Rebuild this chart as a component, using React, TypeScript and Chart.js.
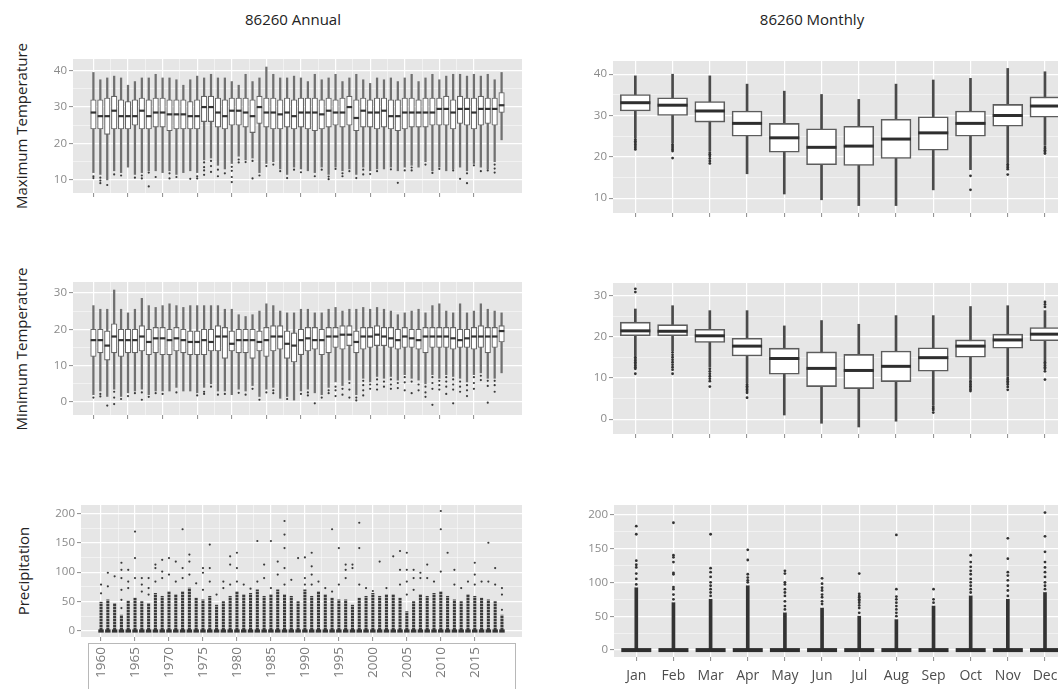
import React, { useEffect, useRef } from "react";
import { Chart, registerables } from "chart.js";

Chart.register(...registerables);

const FONT = '"Open Sans", "Liberation Sans", sans-serif';
const PANEL_BG = "#E6E6E6";

// ---------- categories & ticks ----------
const YEARS = [
  1960, 1961, 1962, 1963, 1964, 1965, 1966, 1967, 1968, 1969,
  1970, 1971, 1972, 1973, 1974, 1975, 1976, 1977, 1978, 1979,
  1980, 1981, 1982, 1983, 1984, 1985, 1986, 1987, 1988, 1989,
  1990, 1991, 1992, 1993, 1994, 1995, 1996, 1997, 1998, 1999,
  2000, 2001, 2002, 2003, 2004, 2005, 2006, 2007, 2008, 2009,
  2010, 2011, 2012, 2013, 2014, 2015, 2016, 2017, 2018, 2019,
];
const YEAR_MAJOR_TICKS = [1960, 1965, 1970, 1975, 1980, 1985, 1990, 1995, 2000, 2005, 2010, 2015];
const YEAR_MINOR_TICKS = [1962.5, 1967.5, 1972.5, 1977.5, 1982.5, 1987.5, 1992.5, 1997.5, 2002.5, 2007.5, 2012.5];
const MONTHS = ["Jan", "Feb", "Mar", "Apr", "May", "Jun", "Jul", "Aug", "Sep", "Oct", "Nov", "Dec"];
const MONTH_POS = [1, 2, 3, 4, 5, 6, 7, 8, 9, 10, 11, 12];

const TMAX_MAJOR = [10, 20, 30, 40];
const TMAX_MINOR = [15, 25, 35];
const TMIN_MAJOR = [0, 10, 20, 30];
const TMIN_MINOR = [5, 15, 25];
const PRE_MAJOR = [0, 50, 100, 150, 200];
const PRE_MINOR = [25, 75, 125, 175];

// ---------- annual maximum temperature ----------
const AMAX_HI = [
  39.5, 37.5, 38, 38.5, 38, 36, 37, 38, 38, 39,
  38, 38, 37.5, 36, 37.5, 38.5, 38, 39, 38, 38,
  37, 36, 39, 37, 38, 41, 39, 38, 38, 38.5,
  38, 37, 39, 37.5, 38, 39, 37, 38, 39, 37.5,
  36.5, 38, 37.5, 38, 37, 38, 39, 37, 38, 39,
  37.5, 38.5, 39, 39, 38.5, 39, 38.5, 39, 37.5, 39.5,
];
const AMAX_Q3 = [
  32, 32, 32.5, 33, 32, 31.5, 32, 32.5, 32, 32.5,
  32.5, 32, 32, 32, 31.5, 32, 33, 33, 32.5, 32,
  32.5, 32.5, 32.5, 32, 33, 32.5, 32.5, 32, 32.5, 32,
  32.5, 32.5, 32.5, 32, 32.5, 32, 32.5, 33, 32, 32.5,
  32, 32.5, 32.5, 32, 32, 32.5, 32.5, 32, 32.5, 32.5,
  32.5, 33, 32, 33, 32.5, 32.5, 33, 32.5, 32.5, 34,
];
const AMAX_MED = [
  28.5, 27.5, 27.5, 29, 27.5, 27.5, 27.5, 29, 27.5, 28.5,
  28.5, 28, 28, 28, 27.5, 27.5, 30, 30, 28.5, 27.5,
  29, 29, 28.5, 27.5, 30, 28.5, 28.5, 28, 28.5, 27.5,
  28.5, 28.5, 28.5, 28, 29, 28.5, 28.5, 30, 27, 29,
  28.5, 28.5, 29, 27.5, 27.5, 28.5, 28.5, 28.5, 28.5, 28.5,
  29.5, 29.5, 28.5, 29.5, 29.5, 28.5, 29.5, 29.5, 29.5, 30.5,
];
const AMAX_Q1 = [
  24, 24, 22.5, 24, 24, 24, 25, 24, 24, 24.5,
  24.5, 23.5, 24, 24, 24, 24, 26, 26, 24.5, 24,
  25, 25, 24.5, 23, 25.5, 24.5, 24, 24, 24.5, 24,
  24.5, 24, 23.5, 24, 24.5, 25, 24.5, 25, 23.5, 24.5,
  24.5, 24, 24.5, 24, 23.5, 24, 24.5, 24.5, 24.5, 25,
  25, 25, 24, 25.5, 25, 24, 25, 25.5, 25, 28.5,
];
const AMAX_LO = [
  12, 11.5, 10, 12.5, 12, 13.5, 11.5, 12, 12.5, 12.5,
  12, 12.5, 11.5, 12, 12.5, 12, 15.5, 16, 14, 13,
  14.5, 16.5, 15.5, 16, 12, 14.5, 15, 13, 11.5, 13.5,
  13, 12.5, 12, 13.5, 11.5, 13.5, 12.5, 13, 11.5, 13.5,
  12.5, 13, 13, 13.5, 12.5, 13.5, 14, 13.5, 15, 12.5,
  13.5, 12.5, 13, 13.5, 12.5, 14.5, 13.5, 13, 15, 21,
];
const AMAX_OUT: [number, number][] = [
  [1960, 11], [1960, 10.5], [1961, 10.6], [1961, 9.8], [1961, 9.1], [1962, 8.6],
  [1963, 11.5], [1964, 11.2], [1966, 10.6], [1967, 11.2], [1967, 10.4], [1968, 12], [1968, 8.2],
  [1969, 10.8], [1971, 11.8], [1971, 10.4], [1972, 10.8], [1974, 10.3], [1975, 11], [1975, 10.4],
  [1976, 14.8], [1976, 13.5], [1976, 12.6], [1976, 11.4], [1977, 15.2], [1977, 13.8], [1977, 12.2],
  [1978, 12.8], [1978, 11], [1979, 11.8], [1980, 13.6], [1980, 12.5], [1980, 10.8], [1980, 9.4],
  [1981, 15.6], [1981, 14.8], [1982, 14.9], [1983, 15.2], [1983, 10.4], [1984, 11.2], [1985, 13.8],
  [1986, 14.2], [1987, 12.4], [1988, 10.5], [1989, 12.8], [1990, 12.1], [1992, 11], [1993, 12.8],
  [1994, 10.9], [1994, 10.2], [1995, 13], [1996, 11.8], [1996, 11], [1997, 12.4], [1998, 10.5],
  [1999, 12.8], [1999, 11.5], [2000, 11.6], [2001, 12.4], [2003, 12.9], [2004, 9.2], [2005, 12.6],
  [2006, 13.4], [2006, 12.6], [2008, 14.2], [2009, 11.9], [2010, 13], [2012, 12.6], [2013, 10.3],
  [2014, 11.8], [2014, 9.1], [2015, 14], [2016, 12.4], [2017, 12.6], [2018, 14.2], [2018, 13.1], [2018, 12],
];

// ---------- annual minimum temperature ----------
const AMIN_HI = [
  26.5, 25.5, 25.5, 30.8, 25.5, 24.5, 25.5, 28.5, 26.5, 26,
  26.5, 27, 26.5, 26, 26.5, 26.5, 26.5, 26.5, 26.5, 25.5,
  25.5, 24, 23.5, 24, 25, 27, 26.5, 25, 24.5, 24.5,
  25.5, 25.5, 24.5, 24.5, 25.5, 26, 25, 25.5, 25.5, 26,
  25.5, 26, 25.5, 25, 24, 24.5, 25, 25.5, 24.5, 26.5,
  27, 25, 24.5, 27, 24.5, 25, 27, 25.5, 25, 24.5,
];
const AMIN_Q3 = [
  20, 20, 19.5, 21.5, 20, 20, 20, 21, 20, 20.5,
  20.5, 20, 20.5, 20, 19.5, 19.5, 20, 20, 21, 20.5,
  19.5, 20, 20, 20, 19.5, 20.5, 21, 21, 19.5, 19,
  20, 20.5, 20.5, 20, 20.5, 20.5, 21, 21, 19.5, 20.5,
  20.5, 21, 20.5, 20.5, 20, 20.5, 20, 20, 20.5, 20.5,
  20.5, 20.5, 20.5, 20, 20, 20.5, 21, 20.5, 20.5, 21,
];
const AMIN_MED = [
  17, 17, 15.5, 18, 17, 17, 17, 18, 16.5, 17.5,
  17.5, 17, 17.5, 17, 16.5, 16.5, 17, 16.5, 18, 18,
  16, 17, 17, 17, 16.5, 17, 18, 18, 16, 15.5,
  17, 17.5, 17, 17, 18, 18, 18.5, 18.5, 16.5, 18,
  18, 18.5, 18, 17.5, 17, 18, 17.5, 17, 18, 18,
  18, 18, 17.5, 17, 17.5, 18, 18, 18, 18, 19.5,
];
const AMIN_Q1 = [
  12.5, 13.5, 11.5, 13.5, 12.5, 13.5, 13.5, 14, 13, 13.5,
  13, 13, 14, 13.5, 13, 13, 13, 14, 14, 12,
  14, 13.5, 13.5, 12, 14, 12.5, 14, 14.5, 12, 11,
  13, 14, 14.5, 13, 13.5, 15, 14.5, 15.5, 13.5, 14.5,
  15, 15.5, 15.5, 15, 14.5, 15, 15, 14.5, 13.5, 15,
  15, 15, 14.5, 15, 15, 14.5, 15, 13.5, 15, 16.5,
];
const AMIN_LO = [
  2, 3, 1.5, 3.5, 1.5, 2.5, 3, 3.5, 2, 3,
  3, 3, 4, 3, 3, 2.5, 4, 5, 3, 3,
  2, 3.5, 3, 4.5, 1.5, 3.5, 4, 1, 1.5, 0.5,
  3, 3.5, 2.5, 2, 4, 5.5, 4.5, 6, 2, 6.5,
  5.5, 7, 6.5, 7, 6, 7.5, 6.5, 6, 5, 7.5,
  6.5, 7.5, 7, 6.5, 5.5, 7.5, 8, 6.5, 6.5, 8,
];
const AMIN_OUT: [number, number][] = [
  [1960, 1.2], [1961, 2.2], [1961, 1.5], [1962, -1], [1963, 2.8], [1963, 1.2], [1963, -0.6], [1964, 0.8],
  [1965, 1.6], [1966, 2.4], [1967, 2.6], [1967, 0.6], [1968, 1.4], [1969, 2.4], [1970, 2.2], [1972, 2.6],
  [1975, 1.8], [1976, 2.8], [1976, 2.2], [1977, 4.2], [1978, 2], [1979, 2.2], [1981, 2.5], [1982, 2],
  [1983, 3.6], [1984, 0.6], [1985, 2.6], [1986, 3.2], [1986, 2.4], [1988, 0.8], [1990, 2.2], [1991, 2.6],
  [1991, 1.8], [1992, -0.4], [1993, 1.2], [1994, 3.2], [1994, 2.4], [1995, 4.2], [1995, 3.2], [1995, 1.6],
  [1996, 3.6], [1996, 2], [1997, 5.2], [1997, 3.4], [1997, 1.2], [1998, 1.2], [1998, 0.4], [1999, 5.8],
  [1999, 4.6], [1999, 3.2], [1999, 1.8], [2000, 4.8], [2000, 3.6], [2001, 6.2], [2001, 4.8], [2001, 3.4],
  [2002, 5.6], [2002, 4.2], [2003, 6.2], [2003, 4.8], [2003, 3.6], [2004, 5.2], [2004, 3.8], [2005, 6.8],
  [2005, 5.4], [2005, 3.2], [2006, 5.6], [2006, 2.4], [2007, 4.8], [2007, 3.2], [2008, 4.2], [2008, 2.6],
  [2008, 1.4], [2009, 6.8], [2009, 5.2], [2009, 3.6], [2009, -0.8], [2010, 5.8], [2010, 4.6], [2010, 3.4],
  [2011, 6.8], [2011, 5.6], [2011, 4.2], [2011, 2.2], [2012, 6.2], [2012, 4.8], [2012, 3.4], [2012, -0.4],
  [2013, 5.6], [2013, 4.2], [2013, 2.8], [2014, 4.6], [2014, 3.2], [2014, 1.6], [2015, 6.8], [2015, 5.2],
  [2015, 3.6], [2016, 7.2], [2016, 6], [2017, 5.8], [2017, 4.4], [2017, -0.2], [2018, 5.8], [2018, 4.6], [2018, 2.8],
];

// ---------- annual precipitation ----------
const APRE_MED = [
  0, 0, 0, 0, 0, 0, 0, 0, 0, 0, 0, 0, 0, 0, 0, 0, 0, 0, 0, 0,
  0, 0, 0, 0, 0, 0, 0, 0, 0, 0, 0, 0, 0, 0, 0, 0, 0, 0, 0, 0,
  0, 0, 0, 0, 0, 0, 0, 0, 0, 0, 0, 0, 0, 0, 0, 0, 0, 0, 0, 0,
];
// top of the dense run of outlier points above zero
const APRE_DENSE = [
  49, 53, 47, 27, 51, 56, 50, 47, 64, 59,
  67, 62, 67, 73, 56, 53, 59, 44, 50, 59,
  67, 62, 64, 70, 59, 62, 70, 62, 59, 50,
  70, 59, 67, 62, 56, 53, 53, 44, 56, 59,
  64, 59, 62, 62, 56, 33, 50, 62, 59, 64,
  67, 59, 53, 50, 62, 59, 56, 53, 50, 27,
];
const APRE_OUT: [number, number][] = [
  [1960, 64], [1960, 79], [1961, 76], [1961, 99], [1962, 93],
  [1963, 39], [1963, 53], [1963, 70], [1963, 90], [1963, 104], [1963, 116],
  [1964, 73], [1964, 84], [1964, 104], [1965, 90], [1965, 124], [1965, 169],
  [1966, 67], [1966, 79], [1966, 90], [1967, 62], [1967, 73], [1967, 90],
  [1968, 84], [1968, 107], [1968, 113], [1969, 90], [1969, 101], [1969, 121],
  [1970, 96], [1970, 124], [1971, 84], [1971, 118], [1972, 90], [1972, 107], [1972, 173],
  [1973, 96], [1973, 118], [1973, 130], [1974, 81], [1975, 70], [1975, 99], [1975, 107],
  [1976, 84], [1976, 107], [1976, 147], [1977, 62], [1978, 73], [1978, 84],
  [1979, 79], [1979, 113], [1979, 127], [1980, 84], [1980, 107], [1980, 133], [1981, 79], [1982, 72],
  [1983, 84], [1983, 153], [1984, 90], [1984, 113], [1985, 73], [1985, 153], [1986, 96], [1986, 118],
  [1987, 79], [1987, 107], [1987, 141], [1987, 164], [1987, 187], [1988, 87], [1989, 124],
  [1990, 79], [1990, 90], [1990, 125], [1991, 79], [1991, 96], [1991, 110], [1991, 133],
  [1992, 84], [1993, 73], [1994, 67], [1994, 173], [1995, 79], [1995, 141],
  [1996, 90], [1996, 104], [1996, 113], [1997, 107], [1997, 113], [1998, 79], [1998, 141], [1998, 184],
  [1999, 73], [2000, 68], [2001, 118], [2002, 73], [2003, 127], [2004, 79], [2004, 104], [2004, 136],
  [2005, 62], [2005, 84], [2005, 104], [2005, 133], [2006, 70], [2006, 90], [2006, 104],
  [2007, 90], [2007, 99], [2008, 90], [2008, 113], [2009, 84], [2010, 101], [2010, 173], [2010, 204],
  [2011, 133], [2012, 79], [2012, 104], [2013, 73], [2014, 84], [2015, 79], [2015, 96], [2015, 116],
  [2016, 84], [2017, 84], [2017, 150], [2018, 79], [2018, 107], [2019, 36], [2019, 62], [2019, 73],
];

// ---------- monthly maximum temperature ----------
const MMAX_HI = [39.6, 40, 39.6, 37.6, 35.9, 35.1, 33.9, 37.6, 38.6, 39, 41.4, 40.6];
const MMAX_Q3 = [35.1, 34.3, 33.4, 31.1, 28.1, 26.8, 27.4, 29.1, 29.7, 31.1, 32.7, 34.5];
const MMAX_MED = [33.1, 32.5, 31.1, 28.1, 24.6, 22.3, 22.6, 24.3, 25.8, 28.1, 30, 32.3];
const MMAX_Q1 = [31.1, 30, 28.4, 25, 21.1, 18.1, 17.9, 19.6, 21.6, 25, 27.4, 29.6];
const MMAX_LO = [24.6, 23.4, 21.4, 15.9, 11, 9.6, 8.2, 8.2, 12, 16.9, 18.6, 22.8];
const MMAX_OUT: [number, number][] = [
  [1, 24.2], [1, 23.8], [1, 23.4], [1, 23], [1, 22.6], [1, 22.2], [1, 21.8],
  [2, 23], [2, 22.6], [2, 22.2], [2, 21.8], [2, 21.4], [2, 19.7],
  [3, 21], [3, 20.6], [3, 20.2], [3, 19.6], [3, 19], [3, 18.4],
  [10, 15.4], [10, 12],
  [11, 18.2], [11, 17.8], [11, 17.4], [11, 17], [11, 15.7],
  [12, 22.4], [12, 22], [12, 21.6], [12, 21.2], [12, 20.8],
];

// ---------- monthly minimum temperature ----------
const MMIN_HI = [26.7, 27.5, 26.3, 26.3, 22.6, 23.9, 23, 25.1, 25.1, 27.3, 27.5, 26.3];
const MMIN_Q3 = [23.5, 22.9, 21.8, 19.6, 17.2, 16.3, 15.7, 16.5, 17.3, 19.2, 20.6, 22.2];
const MMIN_MED = [21.4, 21.3, 20.2, 17.7, 14.7, 12.3, 11.8, 12.8, 14.9, 17.7, 19.2, 20.6];
const MMIN_Q1 = [20.2, 20.2, 18.6, 15.3, 10.9, 7.9, 7.4, 9.1, 11.6, 15, 17.2, 19];
const MMIN_LO = [15.4, 16.6, 12.6, 8.8, 1, -1, -1.9, -0.5, 3.4, 9.6, 10.4, 14.1];
const MMIN_OUT: [number, number][] = [
  [1, 31.6], [1, 30.8], [1, 15], [1, 14.6], [1, 14.2], [1, 13.8], [1, 13.4], [1, 13], [1, 12.6], [1, 12.2], [1, 11],
  [2, 16.2], [2, 15.6], [2, 15], [2, 14.4], [2, 13.8], [2, 13.2], [2, 12.6], [2, 12], [2, 11],
  [3, 12.2], [3, 11.6], [3, 11], [3, 10.4], [3, 9.8], [3, 9.2], [3, 7.9],
  [4, 8.4], [4, 8], [4, 7.6], [4, 7.2], [4, 6.8], [4, 6.4], [4, 5.2],
  [9, 3], [9, 2.6], [9, 2.2], [9, 1.6],
  [10, 9.2], [10, 8.8], [10, 8.4], [10, 8], [10, 7.6], [10, 7.2], [10, 6.8],
  [11, 10], [11, 9.6], [11, 9.2], [11, 8.8], [11, 8.4], [11, 7.8], [11, 7.1],
  [12, 28.4], [12, 27.8], [12, 27.2], [12, 13.8], [12, 13.4], [12, 13], [12, 12.6], [12, 12.2], [12, 11.6], [12, 9.6],
];

// ---------- monthly precipitation ----------
const MPRE_MED = [0, 0, 0, 0, 0, 0, 0, 0, 0, 0, 0, 0];
const MPRE_DENSE = [92, 70, 75, 95, 55, 62, 50, 45, 65, 80, 75, 85];
const MPRE_OUT: [number, number][] = [
  [1, 97], [1, 105], [1, 113], [1, 122], [1, 126], [1, 132], [1, 171], [1, 183],
  [2, 75], [2, 82], [2, 90], [2, 93], [2, 112], [2, 114], [2, 130], [2, 137], [2, 140], [2, 188],
  [3, 80], [3, 85], [3, 90], [3, 95], [3, 100], [3, 108], [3, 115], [3, 121], [3, 171],
  [4, 100], [4, 103], [4, 107], [4, 112], [4, 133], [4, 148],
  [5, 60], [5, 65], [5, 72], [5, 80], [5, 85], [5, 90], [5, 97], [5, 100], [5, 113], [5, 117],
  [6, 68], [6, 72], [6, 78], [6, 82], [6, 88], [6, 92], [6, 98], [6, 106],
  [7, 55], [7, 62], [7, 66], [7, 70], [7, 73], [7, 75], [7, 78], [7, 80], [7, 83], [7, 113],
  [8, 50], [8, 55], [8, 60], [8, 65], [8, 70], [8, 75], [8, 79], [8, 90], [8, 170],
  [9, 70], [9, 75], [9, 90],
  [10, 85], [10, 90], [10, 95], [10, 100], [10, 105], [10, 112], [10, 117], [10, 123], [10, 130], [10, 140],
  [11, 80], [11, 88], [11, 95], [11, 103], [11, 110], [11, 115], [11, 135], [11, 165],
  [12, 90], [12, 95], [12, 100], [12, 108], [12, 115], [12, 122], [12, 130], [12, 145], [12, 168], [12, 203],
];

// ---------- styles ----------
type BoxStyle = {
  boxW: number; whiskerW: number; borderW: number; medW: number; outR: number;
  whisker: string; border: string; median: string; point: string; denseW: number; dotted: boolean;
};
const ANNUAL_STYLE: BoxStyle = {
  boxW: 5.5, whiskerW: 1.6, borderW: 1.1, medW: 2.2, outR: 1.1,
  whisker: "#707070", border: "#666666", median: "#333333", point: "#3a3a3a", denseW: 2.4, dotted: true,
};
const MONTHLY_STYLE: BoxStyle = {
  boxW: 30, whiskerW: 2, borderW: 1.6, medW: 3, outR: 1.4,
  whisker: "#4a4a4a", border: "#5c5c5c", median: "#2e2e2e", point: "#333333", denseW: 3, dotted: false,
};

// dotted fill imitating a column of stacked points
function dotFill(color: string): any {
  if (typeof document === "undefined") return color;
  const c = document.createElement("canvas");
  c.width = 4;
  c.height = 3;
  const g = c.getContext("2d");
  if (!g) return color;
  g.fillStyle = color;
  g.fillRect(0, 0, 4, 2);
  g.fillStyle = "rgba(90,90,90,0.55)";
  g.fillRect(0, 2, 4, 1);
  return g.createPattern(c, "repeat") || color;
}

function boxSets(xs: number[], lo: number[], q1: number[], med: number[], q3: number[], hi: number[], out: [number, number][], st: BoxStyle) {
  return [
    {
      type: "bar", data: xs.map((x, i) => ({ x, y: [lo[i], hi[i]] })),
      backgroundColor: st.whisker, barThickness: st.whiskerW, grouped: false, order: 3,
    },
    {
      type: "bar", data: xs.map((x, i) => ({ x, y: [q1[i], q3[i]] })),
      backgroundColor: "#ffffff", borderColor: st.border, borderWidth: st.borderW,
      borderSkipped: false, barThickness: st.boxW, grouped: false, order: 2,
    },
    {
      type: "scatter", data: xs.map((x, i) => ({ x, y: med[i] })),
      pointStyle: "line", radius: st.boxW / 2, borderColor: st.median, borderWidth: st.medW, order: 1,
    },
    {
      type: "scatter", data: out.map(([x, y]) => ({ x, y })),
      pointStyle: "circle", radius: st.outR, backgroundColor: st.point, borderWidth: 0, order: 0,
    },
  ];
}

function precipSets(xs: number[], med: number[], dense: number[], out: [number, number][], st: BoxStyle) {
  return [
    {
      type: "bar", data: xs.map((x, i) => ({ x, y: [0, dense[i]] })),
      backgroundColor: st.dotted ? dotFill(st.point) : st.point,
      barThickness: st.denseW, grouped: false, order: 3,
    },
    {
      type: "scatter", data: xs.map((x, i) => ({ x, y: med[i] })),
      pointStyle: "line", radius: st.boxW / 2, borderColor: st.median, borderWidth: st.medW + 1, order: 1,
    },
    {
      type: "scatter", data: out.map(([x, y]) => ({ x, y })),
      pointStyle: "circle", radius: st.outR, backgroundColor: st.point, borderWidth: 0, order: 0,
    },
  ];
}

// ---------- panel layout ----------
type Spec = {
  left: number; top: number; right: number; bottom: number;
  yAxisW: number; xAxisH: number;
  xMin: number; xMax: number; yMin: number; yMax: number;
  xMajor: number[]; xMinor: number[]; xLabel: (v: number) => string;
  xRotation: number; xFont: number; xColor: string; xPad: number;
  yMajor: number[]; yMinor: number[];
  datasets: any[];
};

const bgPlugin = {
  id: "ggPanel",
  beforeDraw(chart: any) {
    const { ctx, chartArea: a } = chart;
    ctx.save();
    ctx.fillStyle = PANEL_BG;
    ctx.fillRect(a.left, a.top, a.right - a.left, a.bottom - a.top);
    ctx.restore();
  },
};

function makeConfig(s: Spec): any {
  const xTicks = [...s.xMajor, ...s.xMinor].sort((a, b) => a - b);
  const yTicks = [...s.yMajor, ...s.yMinor].sort((a, b) => a - b);
  const isXMajor = (v: number) => s.xMajor.includes(v);
  const isYMajor = (v: number) => s.yMajor.includes(v);
  const zeroPad = (sc: any) => { sc.paddingLeft = 0; sc.paddingRight = 0; sc.paddingTop = 0; sc.paddingBottom = 0; };
  return {
    type: "bar",
    data: { datasets: s.datasets },
    options: {
      responsive: false, animation: false, devicePixelRatio: 1, events: [],
      layout: { padding: 0, autoPadding: false },
      plugins: { legend: { display: false }, tooltip: { enabled: false } },
      scales: {
        x: {
          type: "linear", min: s.xMin, max: s.xMax, offset: false,
          afterBuildTicks: (sc: any) => { sc.ticks = xTicks.map((v) => ({ value: v })); },
          afterFit: (sc: any) => { sc.height = s.xAxisH; zeroPad(sc); },
          grid: {
            offset: false, color: "#ffffff",
            lineWidth: (c: any) => (c.tick && isXMajor(c.tick.value) ? 1.2 : 0.5),
            drawTicks: true, tickLength: 4, tickWidth: 1,
            tickColor: (c: any) => (c.tick && isXMajor(c.tick.value) ? "#8c8c8c" : "rgba(0,0,0,0)"),
          },
          border: { display: false },
          ticks: {
            autoSkip: false, minRotation: s.xRotation, maxRotation: s.xRotation, padding: s.xPad,
            color: s.xColor, font: { family: FONT, size: s.xFont },
            callback: (v: any) => (isXMajor(Number(v)) ? s.xLabel(Number(v)) : ""),
          },
        },
        y: {
          type: "linear", min: s.yMin, max: s.yMax, beginAtZero: false,
          afterBuildTicks: (sc: any) => { sc.ticks = yTicks.map((v) => ({ value: v })); },
          afterFit: (sc: any) => { sc.width = s.yAxisW; zeroPad(sc); },
          grid: {
            color: "#ffffff",
            lineWidth: (c: any) => (c.tick && isYMajor(c.tick.value) ? 1.2 : 0.5),
            drawTicks: true, tickLength: 4, tickWidth: 1,
            tickColor: (c: any) => (c.tick && isYMajor(c.tick.value) ? "#8c8c8c" : "rgba(0,0,0,0)"),
          },
          border: { display: false },
          ticks: {
            autoSkip: false, padding: 2, color: "#8a8a8a", font: { family: FONT, size: 11.5 },
            callback: (v: any) => (isYMajor(Number(v)) ? String(v) : ""),
          },
        },
      },
    },
    plugins: [bgPlugin],
  };
}

function Panel({ spec }: { spec: Spec }) {
  const ref = useRef<HTMLCanvasElement>(null);
  const left = spec.left - spec.yAxisW;
  const width = spec.right - left;
  const height = spec.bottom - spec.top + spec.xAxisH;
  useEffect(() => {
    const chart = new Chart(ref.current as HTMLCanvasElement, makeConfig(spec));
    return () => chart.destroy();
  }, []);
  return (
    <canvas
      ref={ref}
      width={width}
      height={height}
      style={{ position: "absolute", left, top: spec.top, width, height }}
    />
  );
}

const noLabel = () => "";
const yearLabel = (v: number) => String(v);
const monthLabel = (v: number) => MONTHS[v - 1] ?? "";

const ANNUAL_X = { xMin: 1957.05, xMax: 2021.95, xMajor: YEAR_MAJOR_TICKS, xMinor: YEAR_MINOR_TICKS };
const MONTH_X = { xMin: 0.4, xMax: 12.35, xMajor: MONTH_POS, xMinor: [] as number[] };
const TMAX_Y = { yMin: 6.4, yMax: 43.2, yMajor: TMAX_MAJOR, yMinor: TMAX_MINOR };
const TMIN_Y = { yMin: -3.6, yMax: 33.0, yMajor: TMIN_MAJOR, yMinor: TMIN_MINOR };
const PRE_Y = { yMin: -10.2, yMax: 214.2, yMajor: PRE_MAJOR, yMinor: PRE_MINOR };

const baseX = { xRotation: 0, xFont: 12, xColor: "#555555", xPad: 2, xLabel: noLabel };

const SPECS: Spec[] = [
  {
    left: 73, top: 59, right: 522, bottom: 193, yAxisW: 40, xAxisH: 12,
    ...ANNUAL_X, ...TMAX_Y, ...baseX,
    datasets: boxSets(YEARS, AMAX_LO, AMAX_Q1, AMAX_MED, AMAX_Q3, AMAX_HI, AMAX_OUT, ANNUAL_STYLE),
  },
  {
    left: 73, top: 282, right: 522, bottom: 415, yAxisW: 40, xAxisH: 12,
    ...ANNUAL_X, ...TMIN_Y, ...baseX,
    datasets: boxSets(YEARS, AMIN_LO, AMIN_Q1, AMIN_MED, AMIN_Q3, AMIN_HI, AMIN_OUT, ANNUAL_STYLE),
  },
  {
    left: 81, top: 505, right: 522, bottom: 637, yAxisW: 48, xAxisH: 52,
    ...ANNUAL_X, ...PRE_Y, ...baseX,
    xRotation: 90, xFont: 13.5, xColor: "#7a7a7a", xPad: 6, xLabel: yearLabel,
    datasets: precipSets(YEARS, APRE_MED, APRE_DENSE, APRE_OUT, ANNUAL_STYLE),
  },
  {
    left: 613, top: 61, right: 1058, bottom: 213, yAxisW: 40, xAxisH: 12,
    ...MONTH_X, ...TMAX_Y, ...baseX,
    datasets: boxSets(MONTH_POS, MMAX_LO, MMAX_Q1, MMAX_MED, MMAX_Q3, MMAX_HI, MMAX_OUT, MONTHLY_STYLE),
  },
  {
    left: 613, top: 283, right: 1058, bottom: 434, yAxisW: 40, xAxisH: 12,
    ...MONTH_X, ...TMIN_Y, ...baseX,
    datasets: boxSets(MONTH_POS, MMIN_LO, MMIN_Q1, MMIN_MED, MMIN_Q3, MMIN_HI, MMIN_OUT, MONTHLY_STYLE),
  },
  {
    left: 614, top: 505, right: 1058, bottom: 657, yAxisW: 48, xAxisH: 32,
    ...MONTH_X, ...PRE_Y, ...baseX,
    xFont: 14, xColor: "#4d4d4d", xPad: 7, xLabel: monthLabel,
    datasets: precipSets(MONTH_POS, MPRE_MED, MPRE_DENSE, MPRE_OUT, MONTHLY_STYLE),
  },
];

const TITLES = [
  { text: "86260 Annual", cx: 293, cy: 19 },
  { text: "86260 Monthly", cx: 812, cy: 19 },
];
const Y_TITLES = [
  { text: "Maximum Temperature", cx: 21, cy: 126 },
  { text: "Minimum Temperature", cx: 21, cy: 349 },
  { text: "Precipitation", cx: 23, cy: 571 },
];

export default function App() {
  return (
    <div style={{ position: "absolute", left: 0, top: 0, width: 1058, height: 689, overflow: "hidden", background: "#ffffff", fontFamily: FONT }}>
      {TITLES.map((t) => (
        <div key={t.text} style={{ position: "absolute", left: t.cx - 150, top: t.cy - 11, width: 300, height: 22, lineHeight: "22px", textAlign: "center", fontSize: 15, color: "#222" }}>
          {t.text}
        </div>
      ))}
      {Y_TITLES.map((t) => (
        <div key={t.text} style={{ position: "absolute", left: t.cx - 110, top: t.cy - 11, width: 220, height: 22, lineHeight: "22px", textAlign: "center", fontSize: 15, color: "#222", transform: "rotate(-90deg)" }}>
          {t.text}
        </div>
      ))}
      <div style={{ position: "absolute", left: 88, top: 643, width: 428, height: 48, border: "1.5px solid #b8b8b8", boxSizing: "border-box" }} />
      {SPECS.map((s, i) => (
        <Panel key={i} spec={s} />
      ))}
    </div>
  );
}
